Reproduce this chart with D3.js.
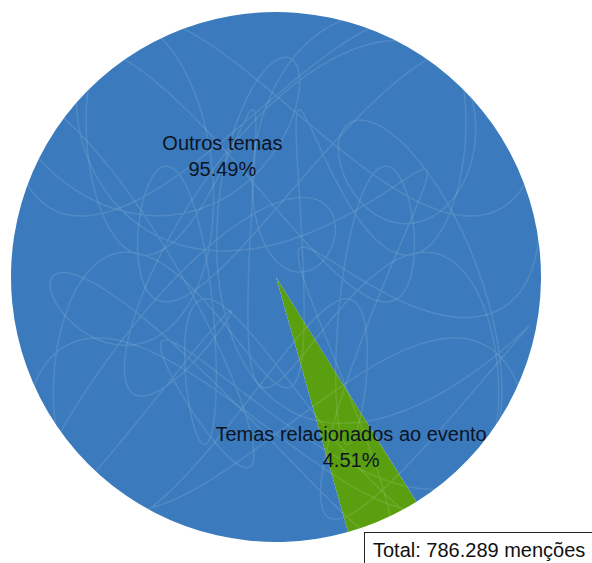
<!DOCTYPE html>
<html>
<head>
<meta charset="utf-8">
<script src="https://cdn.jsdelivr.net/npm/d3@7"></script>
<style>
  html, body { margin: 0; padding: 0; background: #fff; }
  svg { display: block; }
  text { font-family: "Liberation Sans", Arial, sans-serif; }
</style>
</head>
<body>
<svg id="chart" width="592" height="563"></svg>
<script>
// Share of mentions
const categories = ["Temas relacionados ao evento", "Outros temas"];
const shares = [4.51, 95.49];
const shareLabels = ["4.51%", "95.49%"];
const totalLabel = "Total: 786.289 menções";

const W = 592, H = 563;
const cx = 276, cy = 277, R = 265;
const colors = d3.scaleOrdinal().domain(categories).range(["#5a9f0f", "#3b7bbd"]);
const labelRadius = d3.scaleOrdinal().domain(categories).range([0.70 * R, 0.50 * R]);

const svg = d3.select("#chart");
const g = svg.append("g").attr("transform", `translate(${cx},${cy})`);

const start = 148 * Math.PI / 180;
const pie = d3.pie().sort(null).value(d => d.v).startAngle(start).endAngle(start + 2 * Math.PI);
const data = categories.map((c, i) => ({ c, v: shares[i], label: shareLabels[i] }));
const arcs = pie(data);
const arc = d3.arc().innerRadius(0).outerRadius(R);

g.selectAll("path.slice").data(arcs).join("path")
  .attr("class", "slice")
  .attr("d", arc)
  .attr("fill", d => colors(d.data.c));

// faint scribble texture over the disc
g.append("clipPath").attr("id", "disc").append("circle").attr("r", R);
const tex = g.append("g").attr("clip-path", "url(#disc)")
  .attr("fill", "none").attr("stroke", "#ffffff").attr("stroke-opacity", 0.11).attr("stroke-width", 1.5);
const scribble = (a, b, c, d, ph) => d3.range(0, 2 * Math.PI + 0.005, 0.005).map(t => [
  R * (0.62 * Math.sin(a * t + ph) + 0.38 * Math.sin(c * t)),
  R * (0.62 * Math.cos(b * t + ph * 1.3) + 0.38 * Math.sin(d * t + ph))
]);
const line = d3.line().curve(d3.curveBasis);
[[3, 4, 11, 13, 0.4], [5, 2, 9, 14, 1.9]].forEach(p => {
  tex.append("path").attr("d", line(scribble(...p)));
});

// slice labels
const lab = g.selectAll("g.lab").data(arcs).join("g")
  .attr("class", "lab")
  .attr("transform", d => {
    const a = (d.startAngle + d.endAngle) / 2;
    const r = labelRadius(d.data.c);
    return `translate(${r * Math.sin(a)},${-r * Math.cos(a)})`;
  });
lab.append("text").attr("text-anchor", "middle").attr("y", -6)
  .attr("font-size", 20).attr("fill", "#0c1424").text(d => d.data.c);
lab.append("text").attr("text-anchor", "middle").attr("y", 20)
  .attr("font-size", 20).attr("fill", "#0c1424").text(d => d.data.label);

// total box
const box = svg.append("g").attr("transform", "translate(364,532)");
box.append("rect").attr("x", 0.5).attr("y", 0.5).attr("width", 240).attr("height", 40)
  .attr("fill", "#fff").attr("stroke", "#222").attr("stroke-width", 1);
box.append("text").attr("x", 9).attr("y", 25).attr("font-size", 20).attr("fill", "#111").text(totalLabel);
</script>
</body>
</html>
